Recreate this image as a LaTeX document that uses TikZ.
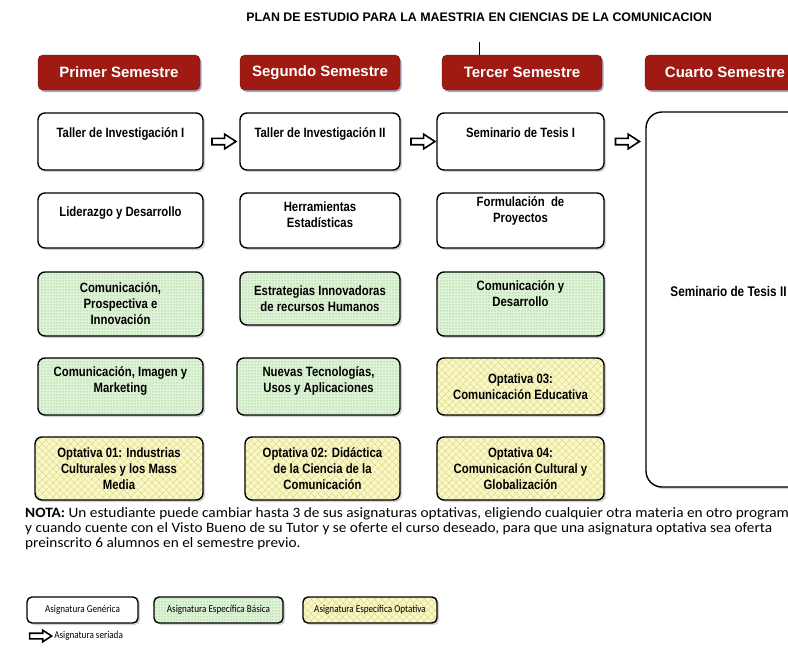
\documentclass[tikz,border=0pt]{standalone}
\usepackage{fontspec}
\setmainfont{Liberation Sans}
\newfontfamily\boxfont[FakeStretch=0.84]{Liberation Sans}
\newfontfamily\notefont[FakeStretch=1.07]{Carlito}
\newfontfamily\legendfont[FakeStretch=0.87]{Carlito}
\usetikzlibrary{positioning}
\usetikzlibrary{shapes.arrows}
\usetikzlibrary{shadows}
\usetikzlibrary{patterns}
\usetikzlibrary{patterns.meta}
\definecolor{headred}{RGB}{158,26,18}
\definecolor{basicfill}{RGB}{222,244,214}
\definecolor{basicdot}{RGB}{120,160,110}
\definecolor{optfill}{RGB}{250,248,198}
\definecolor{optline}{RGB}{222,216,140}
\tikzset{caja/.style = {draw, line width = 1.4pt, rounded corners = 7pt, align = center, inner sep = 2pt,
                        font = \boxfont\bfseries\fontsize{13.5}{16}\selectfont,
                        drop shadow = {shadow xshift = 2pt, shadow yshift = -2pt, opacity = .35}}}
\tikzset{generica/.style = {caja, fill = white}}
\tikzset{basica/.style = {caja, preaction = {fill = basicfill}, pattern = dots, pattern color = basicdot}}
\tikzset{optativa/.style = {caja, preaction = {fill = optfill},
                            preaction = {pattern = {Lines[angle = 45, distance = 5pt, line width = .5pt]}, pattern color = optline},
                            pattern = {Lines[angle = -45, distance = 5pt, line width = .5pt]}, pattern color = optline}}
\tikzset{semestre/.style = {fill = headred, draw = headred!70!black, rounded corners = 5pt, text = white,
                            font = \bfseries\fontsize{15}{18}\selectfont, minimum width = 160, minimum height = 35,
                            drop shadow = {fill = blue!25!gray, opacity = .55, shadow xshift = 1.5pt, shadow yshift = -2pt}}}
\tikzset{seriada/.style = {single arrow, draw, line width = 1.6pt, fill = white, inner xsep = 0, inner ysep = 2.4pt,
                           minimum height = 24, single arrow head extend = 4.2pt, single arrow tip angle = 66}}
\tikzset{legenda/.style = {rounded corners = 5pt, font = \legendfont\fontsize{10.5}{12}\selectfont, minimum height = 26}}

\begin{document}
\begin{tikzpicture}[x = 1pt, y = -1pt]
  \useasboundingbox (0, 0) rectangle (788, 656);
  \clip (0, 0) rectangle (788, 656);
  \node (titulo) at (479, 17) {\bfseries\fontsize{12.4}{14}\selectfont PLAN DE ESTUDIO PARA LA MAESTRIA EN CIENCIAS DE LA COMUNICACION};
  \coordinate (marca) at (479, 42);
  % semestres
  \node [semestre, minimum width = 162] (sem1) at (119, 72.5) {Primer Semestre};
  \node [semestre] (sem2) at (320, 72.5) {Segundo Semestre};
  \node [semestre] (sem3) at (522, 72.5) {Tercer Semestre};
  \node [semestre] (sem4) at (725, 72.5) {Cuarto Semestre};
  \draw [line width = .8pt] (marca) -- (marca |- sem3.north);
  % primer semestre
  \node [generica, minimum width = 165, minimum height = 57, text depth = 18pt] (taller1) at (120.5, 141.5) {Taller de Investigación I};
  \node [generica, minimum width = 165, minimum height = 55, text depth = 18pt] (liderazgo) at (120.5, 220.5) {Liderazgo y Desarrollo};
  \node [basica, minimum width = 165, minimum height = 64] (prospectiva) at (120.5, 304) {Comunicación,\\ Prospectiva e\\ Innovación};
  \node [basica, minimum width = 165, minimum height = 57, text depth = 13pt] (imagen) at (120.5, 386.5) {Comunicación, Imagen y\\ Marketing};
  \node [optativa, minimum width = 168, minimum height = 63] (opt1) at (119, 468.5) {Optativa 01: Industrias\\ Culturales y los Mass\\ Media};
  % segundo semestre
  \node [generica, minimum width = 160, minimum height = 57, text depth = 18pt] (taller2) at (320, 141.5) {Taller de Investigación II};
  \node [generica, minimum width = 160, minimum height = 55, text depth = 12pt] (herramientas) at (320, 220.5) {Herramientas\\ Estadísticas};
  \node [basica, minimum width = 160, minimum height = 53] (estrategias) at (320, 298.5) {Estrategias Innovadoras\\ de recursos Humanos};
  \node [basica, minimum width = 163, minimum height = 57, text depth = 13pt] (tecnologias) at (318.5, 386.5) {Nuevas Tecnologías,\\ Usos y Aplicaciones};
  \node [optativa, minimum width = 155, minimum height = 63] (opt2) at (322.5, 468.5) {Optativa 02: Didáctica\\ de la Ciencia de la\\ Comunicación};
  % tercer semestre
  \node [generica, minimum width = 167, minimum height = 57, text depth = 18pt] (tesis1) at (520.5, 141.5) {Seminario de Tesis I};
  \node [generica, minimum width = 167, minimum height = 55, text depth = 21pt] (formulacion) at (520.5, 220.5) {Formulación \ de\\ Proyectos};
  \node [basica, minimum width = 167, minimum height = 64, text depth = 21pt] (desarrollo) at (520.5, 304) {Comunicación y\\ Desarrollo};
  \node [optativa, minimum width = 167, minimum height = 57] (opt3) at (520.5, 386.5) {Optativa 03:\\ Comunicación Educativa};
  \node [optativa, minimum width = 167, minimum height = 63] (opt4) at (520.5, 468.5) {Optativa 04:\\ Comunicación Cultural y\\ Globalización};
  % cuarto semestre
  \node [generica, rounded corners = 16pt, minimum width = 165, minimum height = 375, text depth = 16pt,
         font = \boxfont\bfseries\fontsize{14}{16}\selectfont] (tesis2) at (728.5, 299.5) {Seminario de Tesis II};
  % seriacion
  \path (taller1) -- node [seriada] {} (taller2);
  \path (taller2) -- node [seriada, xshift = 2] {} (tesis1);
  \path (tesis1.east) -- node [seriada] {} (tesis1.east -| tesis2.west);
  % nota
  \node [anchor = north west, align = left, inner sep = 0, font = \notefont\fontsize{14.3}{15}\selectfont] (nota) at (25, 507)
        {\textbf{NOTA:} Un estudiante puede cambiar hasta 3 de sus asignaturas optativas, eligiendo cualquier otra materia en otro program\\
         y cuando cuente con el Visto Bueno de su Tutor y se oferte el curso deseado, para que una asignatura optativa sea oferta\\
         preinscrito 6 alumnos en el semestre previo.};
  % leyenda
  \node [generica, legenda, minimum width = 111] (leygen) at (82.5, 610) {Asignatura Genérica};
  \node [basica, legenda, minimum width = 129] (leybas) at (218.5, 610) {Asignatura Específica Básica};
  \node [optativa, legenda, minimum width = 134] (leyopt) at (370, 610) {Asignatura Específica Optativa};
  \node [seriada, minimum height = 22, inner ysep = 2pt, single arrow head extend = 3pt] (leyflecha) at (38.5, 636) {};
  \node [anchor = west, inner sep = 1pt, font = \legendfont\fontsize{10.5}{12}\selectfont] (leyser) at (leyflecha.east) {Asignatura seriada};
\end{tikzpicture}
\end{document}
